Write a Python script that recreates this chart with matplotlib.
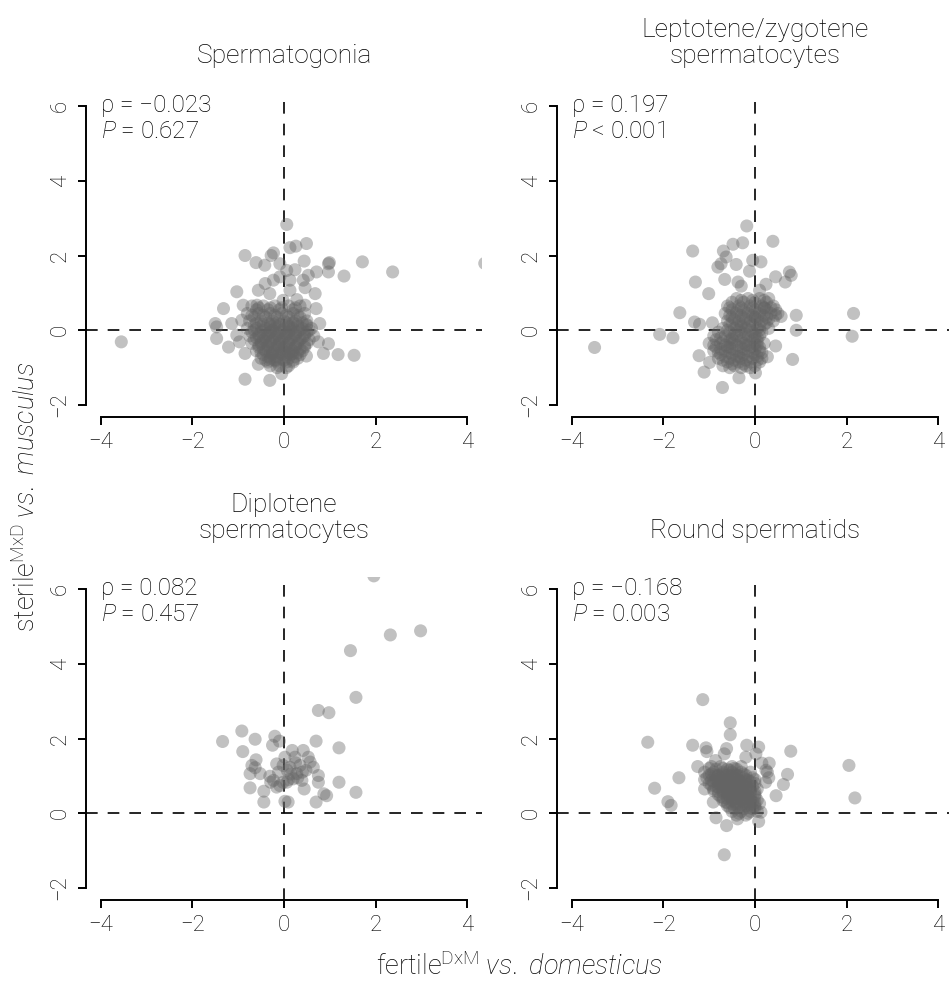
import matplotlib
matplotlib.use("Agg")
import matplotlib.pyplot as plt

plt.rcParams['font.family'] = ['Roboto', 'DejaVu Sans']
plt.rcParams['font.weight'] = 'light'
plt.rcParams['mathtext.fontset'] = 'custom'
plt.rcParams['mathtext.rm'] = 'Roboto:light'
plt.rcParams['mathtext.it'] = 'Roboto:italic:light'

# panel titles and stats
titles = ["Spermatogonia", "Leptotene/zygotene\nspermatocytes",
          "Diplotene\nspermatocytes", "Round spermatids"]
rho_labels = ["ρ = −0.023", "ρ = 0.197", "ρ = 0.082", "ρ = −0.168"]
p_labels = ["$P$ = 0.627", "$P$ < 0.001", "$P$ = 0.457", "$P$ = 0.003"]

# spermatogonia
sg_x = [0.06, -0.85, -0.61, -0.28, -0.23, 0.13, 0.26, 0.49, -0.42, -0.09, 0.44, 0.99,
        1.71, 2.37, 1.31, 0.97, 0.71, 0.53, 0.24, 0.06, -0.09, -0.23, -0.41, 0.13,
        0.42, 0.46, 0.13, -0.56, -1.03, -0.31, 0.68, 0.28, -0.02, -1.32, -0.89, 0.46,
        0.70, -0.59, -1.50, -1.47, -1.14, -0.92, 0.78, 0.49, -1.47, -1.21, -1.03, -0.97,
        -0.85, -0.56, -0.31, -0.05, 0.20, 0.49, 0.86, 0.97, 0.75, 1.18, 1.53, -0.85,
        -0.31, -3.55, 4.38, 0.97,
        -0.7, -0.45, -0.2, 0.1, 0.35,
        -0.8, -0.55, -0.3, -0.05, 0.2, 0.45,
        -0.75, -0.5, -0.25, 0.0, 0.25, 0.5,
        -0.8, -0.6, -0.4, -0.2, 0.0, 0.2, 0.4, 0.6,
        -0.75, -0.55, -0.35, -0.15, 0.05, 0.25, 0.45, 0.65,
        -0.7, -0.5, -0.3, -0.1, 0.1, 0.3, 0.5,
        -0.6, -0.4, -0.2, 0.0, 0.2, 0.4,
        -0.5, -0.3, -0.1, 0.1, 0.3,
        -0.3, -0.1, 0.1,
        -0.3, -0.1, 0.1, -0.2, -0.4, 0.0, -0.25, 0.15, -0.15, 0.05,
        -0.6, -0.35, -0.1, 0.2,
        -0.65, -0.4, -0.15, 0.1, 0.35,
        -0.65, -0.45, -0.3, -0.1, 0.1, 0.3, 0.5,
        -0.7, -0.5, -0.3, -0.1, 0.1, 0.3, 0.5,
        -0.65, -0.45, -0.25, -0.05, 0.15, 0.35, 0.55,
        -0.55, -0.35, -0.15, 0.05, 0.25, 0.45,
        -0.45, -0.25, -0.05, 0.15, 0.35,
        -0.35, -0.15, 0.05, 0.2,
        -0.55, -0.3, -0.05, 0.25,
        -0.7, -0.45, -0.2, 0.05, 0.3,
        -0.6, -0.35, -0.15, 0.05, 0.2, 0.4,
        -0.65, -0.45, -0.25, -0.05, 0.15, 0.35, 0.55,
        -0.6, -0.4, -0.2, 0.0, 0.2, 0.4,
        -0.55, -0.35, -0.15, 0.05, 0.25, 0.45,
        -0.5, -0.3, -0.1, 0.1, 0.3,
        -0.4, -0.2, 0.0, 0.2,
        -0.15, 0.05,
        -0.5, -0.3, -0.1, 0.1, 0.3,
        -0.55, -0.35, -0.15, 0.05, 0.25, 0.45,
        -0.5, -0.3, -0.1, 0.1, 0.3,
        -0.45, -0.25, -0.05, 0.15, 0.35,
        -0.35, -0.15, 0.05, 0.25]
sg_y = [2.83, 2.00, 1.81, 2.00, 2.07, 2.21, 2.25, 2.32, 1.74, 1.78, 1.85, 1.81,
        1.83, 1.56, 1.45, 1.56, 1.56, 1.47, 1.62, 1.60, 1.43, 1.34, 1.25, 1.34,
        1.34, 1.14, 1.07, 1.07, 1.03, 0.98, 0.98, 0.82, 0.80, 0.58, 0.67, 0.67,
        0.58, 0.67, 0.18, 0.09, 0.18, 0.27, 0.18, 0.13, -0.22, -0.45, -0.13, -0.31,
        -0.62, -0.91, -0.80, -1.16, -0.62, -0.69, -0.62, -0.36, -0.31, -0.65, -0.67, -1.31,
        -1.34, -0.31, 1.79, 1.78,
        0.65, 0.65, 0.65, 0.65, 0.65,
        0.45, 0.45, 0.45, 0.45, 0.45, 0.45,
        0.25, 0.25, 0.25, 0.25, 0.25, 0.25,
        0.05, 0.05, 0.05, 0.05, 0.05, 0.05, 0.05, 0.05,
        -0.15, -0.15, -0.15, -0.15, -0.15, -0.15, -0.15, -0.15,
        -0.35, -0.35, -0.35, -0.35, -0.35, -0.35, -0.35,
        -0.55, -0.55, -0.55, -0.55, -0.55, -0.55,
        -0.75, -0.75, -0.75, -0.75, -0.75,
        -0.95, -0.95, -0.95,
        -0.05, -0.25, -0.1, 0.15, -0.3, -0.45, -0.6, 0.1, -0.8, -0.65,
        0.55, 0.55, 0.55, 0.55,
        0.35, 0.35, 0.35, 0.35, 0.35,
        0.15, 0.15, 0.15, 0.15, 0.15, 0.15, 0.15,
        -0.05, -0.05, -0.05, -0.05, -0.05, -0.05, -0.05,
        -0.25, -0.25, -0.25, -0.25, -0.25, -0.25, -0.25,
        -0.45, -0.45, -0.45, -0.45, -0.45, -0.45,
        -0.65, -0.65, -0.65, -0.65, -0.65,
        -0.85, -0.85, -0.85, -0.85,
        0.6, 0.6, 0.6, 0.6,
        0.4, 0.4, 0.4, 0.4, 0.4,
        0.2, 0.2, 0.2, 0.2, 0.2, 0.2,
        0.0, 0.0, 0.0, 0.0, 0.0, 0.0, 0.0,
        -0.2, -0.2, -0.2, -0.2, -0.2, -0.2,
        -0.4, -0.4, -0.4, -0.4, -0.4, -0.4,
        -0.6, -0.6, -0.6, -0.6, -0.6,
        -0.8, -0.8, -0.8, -0.8,
        -1.0, -1.0,
        0.1, 0.1, 0.1, 0.1, 0.1,
        -0.1, -0.1, -0.1, -0.1, -0.1, -0.1,
        -0.3, -0.3, -0.3, -0.3, -0.3,
        -0.5, -0.5, -0.5, -0.5, -0.5,
        -0.7, -0.7, -0.7, -0.7]

# leptotene/zygotene
lz_x = [-0.18, 0.39, -0.27, -0.48, -1.36, -0.69, -0.63, -0.81, -0.74, -0.41, -0.05, 0.13,
        -0.12, 0.75, 0.79, 0.66, 0.45, -1.30, -0.66, -0.37, -0.30, 0.24, -1.01, 0.10,
        -1.64, -1.32, -1.21, -0.93, -2.08, -1.79, 0.90, 0.90, 0.82, 2.15, 2.12, -3.50,
        -1.22, -1.11, -0.71, -0.35, 0.01, -0.99, 0.45, 0.57, 0.27,
        -0.4, -0.15, 0.1, 0.3,
        -0.6, -0.35, -0.1, 0.15, 0.4,
        -0.65, -0.4, -0.15, 0.1, 0.35, 0.5,
        -0.6, -0.35, -0.1, 0.15, 0.4,
        -0.7, -0.45, -0.2, 0.05, 0.3,
        -0.9, -0.65, -0.4, -0.15, 0.1,
        -1.0, -0.75, -0.5, -0.25, 0.0, 0.2,
        -0.9, -0.65, -0.4, -0.15, 0.1,
        -0.8, -0.55, -0.3, -0.05, 0.15,
        -0.7, -0.45, -0.2, 0.0,
        -0.3, 0.0, -0.2, -0.5, -0.35, 0.05, -0.6, 0.2,
        -0.5, -0.25, 0.0, 0.25,
        -0.5, -0.25, 0.0, 0.25, 0.45,
        -0.5, -0.25, 0.0, 0.25,
        -0.55, -0.3, -0.05, 0.2,
        -0.8, -0.55, -0.3, -0.05, 0.15,
        -0.85, -0.55, -0.3, -0.05,
        -0.85, -0.55, -0.3, -0.05, 0.1,
        -0.75, -0.5, -0.25, 0.0,
        -0.6, -0.35, -0.1, 0.1,
        -0.3, -0.05, 0.2,
        -0.55, -0.3, -0.05, 0.2, 0.35,
        -0.55, -0.3, -0.05, 0.2, 0.45,
        -0.5, -0.25, 0.0, 0.25,
        -0.6, -0.35, -0.1, 0.1,
        -0.75, -0.5, -0.25, 0.0,
        -0.9, -0.65, -0.4, -0.15, 0.05,
        -0.8, -0.55, -0.3, -0.05, 0.15,
        -0.7, -0.45, -0.2, 0.05,
        -0.55, -0.3, -0.1,
        -0.4, -0.15, 0.1,
        -0.45, -0.2, 0.05, 0.3,
        -0.4, -0.15, 0.1,
        -0.45, -0.2, 0.0,
        -0.7, -0.45, -0.2, 0.05,
        -0.75, -0.5, -0.25, 0.0,
        -0.65, -0.4, -0.15, 0.05,
        -0.5, -0.25]
lz_y = [2.79, 2.38, 2.34, 2.30, 2.12, 2.12, 1.96, 1.69, 1.78, 1.76, 1.87, 1.83,
        1.58, 1.56, 1.47, 1.29, 1.43, 1.29, 1.36, 1.29, 1.18, 1.23, 0.98, 1.07,
        0.47, 0.22, 0.16, 0.20, -0.11, -0.20, 0.40, 0.00, -0.78, 0.45, -0.16, -0.46,
        -0.68, -1.12, -1.53, -1.27, -1.14, -0.86, -0.42, 0.37, -0.71,
        0.85, 0.85, 0.85, 0.85,
        0.65, 0.65, 0.65, 0.65, 0.65,
        0.45, 0.45, 0.45, 0.45, 0.45, 0.45,
        0.25, 0.25, 0.25, 0.25, 0.25,
        0.05, 0.05, 0.05, 0.05, 0.05,
        -0.15, -0.15, -0.15, -0.15, -0.15,
        -0.35, -0.35, -0.35, -0.35, -0.35, -0.35,
        -0.55, -0.55, -0.55, -0.55, -0.55,
        -0.75, -0.75, -0.75, -0.75, -0.75,
        -0.95, -0.95, -0.95, -0.95,
        0.1, 0.35, -0.4, -0.25, -0.7, -0.2, -0.45, 0.6,
        0.75, 0.75, 0.75, 0.75,
        0.55, 0.55, 0.55, 0.55, 0.55,
        0.35, 0.35, 0.35, 0.35,
        0.15, 0.15, 0.15, 0.15,
        -0.05, -0.05, -0.05, -0.05, -0.05,
        -0.25, -0.25, -0.25, -0.25,
        -0.45, -0.45, -0.45, -0.45, -0.45,
        -0.65, -0.65, -0.65, -0.65,
        -0.85, -0.85, -0.85, -0.85,
        0.8, 0.8, 0.8,
        0.6, 0.6, 0.6, 0.6, 0.6,
        0.4, 0.4, 0.4, 0.4, 0.4,
        0.2, 0.2, 0.2, 0.2,
        0.0, 0.0, 0.0, 0.0,
        -0.2, -0.2, -0.2, -0.2,
        -0.4, -0.4, -0.4, -0.4, -0.4,
        -0.6, -0.6, -0.6, -0.6, -0.6,
        -0.8, -0.8, -0.8, -0.8,
        -1.0, -1.0, -1.0,
        0.5, 0.5, 0.5,
        0.3, 0.3, 0.3, 0.3,
        0.1, 0.1, 0.1,
        -0.1, -0.1, -0.1,
        -0.3, -0.3, -0.3, -0.3,
        -0.5, -0.5, -0.5, -0.5,
        -0.7, -0.7, -0.7, -0.7,
        -0.9, -0.9]

# diplotene
dp_x = [1.96, 2.98, 2.32, 1.45, 1.57, 0.75, 0.98, -1.34, -0.92, -0.63, -0.20, -0.10,
        -0.25, 0.70, 1.20, -0.90, -0.61, -0.70, -0.74, -0.63, -0.52, -0.31, -0.29, -0.74,
        -0.44, -0.44, -0.16, -0.02, 0.02, -0.02, 0.07, 0.18, 0.24, 0.42, 0.53, 0.64,
        0.75, 0.75, 0.28, 0.39, 0.44, 0.20, 0.06, 0.13, 0.35, 0.48, 0.57, 1.20,
        1.57, 0.87, 0.93, 0.70, 0.02, 0.09, -0.09, -0.16, -0.12, -0.23,
        0.30, 0.15, 0.40, 0.25, 0.10]
dp_y = [6.35, 4.88, 4.77, 4.35, 3.10, 2.75, 2.69, 1.92, 2.20, 1.98, 2.06, 1.93,
        1.82, 1.93, 1.75, 1.65, 1.43, 1.28, 1.06, 1.22, 1.06, 0.99, 0.83, 0.68,
        0.59, 0.30, 0.70, 0.83, 1.50, 1.28, 1.15, 1.68, 1.50, 1.68, 1.50, 1.23,
        1.01, 0.83, 1.06, 0.88, 0.65, 0.92, 0.83, 1.23, 1.28, 1.15, 1.37, 0.83,
        0.56, 0.52, 0.47, 0.30, 0.32, 0.30, 0.74, 1.32, 1.10, 0.88,
        0.95, 1.05, 1.10, 1.35, 0.90]

# round spermatids
rs_x = [-1.14, -0.54, -0.54, -2.34, -1.36, -1.07, -1.05, -0.62, -0.67, -0.18, 0.08, 0.02,
        0.78, -0.20, -1.25, -0.86, 0.15, 0.31, 0.27, 0.30, 0.71, 0.62, 0.46, -1.66,
        -2.19, -1.90, -1.83, -1.10, -0.91, -0.85, -0.62, -0.38, 0.08, 0.13, -0.67, 2.05,
        2.18, 0.24, 0.23, 0.10,
        -0.95, -0.75, -0.5, -0.3,
        -1.1, -0.9, -0.7, -0.5, -0.3, -0.1,
        -1.05, -0.85, -0.65, -0.45, -0.25, -0.05,
        -1.0, -0.8, -0.6, -0.4, -0.2, 0.0,
        -0.9, -0.7, -0.5, -0.3, -0.1, 0.05,
        -0.8, -0.6, -0.4, -0.2, 0.0,
        -0.7, -0.5, -0.3, -0.1, 0.05,
        -0.6, -0.4, -0.2, 0.0,
        -0.5, -0.3, -0.1, 0.05,
        -0.4, -0.2,
        -0.6, -0.4, -0.8, -0.3, -0.55, -0.15, -0.7, -0.45,
        -0.85, -0.6, -0.4,
        -1.0, -0.8, -0.6, -0.4, -0.2,
        -0.95, -0.75, -0.55, -0.35, -0.15,
        -0.85, -0.65, -0.45, -0.25, -0.05,
        -0.8, -0.6, -0.4, -0.2, 0.0,
        -0.7, -0.5, -0.3, -0.1,
        -0.6, -0.4, -0.2, 0.0,
        -0.45, -0.25, -0.05,
        -1.0, -0.7, -0.45,
        -0.95, -0.7, -0.45, -0.25,
        -1.1, -0.85, -0.6, -0.4, -0.2, 0.0,
        -0.95, -0.75, -0.55, -0.35, -0.15,
        -0.9, -0.7, -0.5, -0.3, -0.1,
        -0.75, -0.55, -0.35, -0.15, 0.0,
        -0.65, -0.45, -0.25, -0.05,
        -0.55, -0.35, -0.15, 0.0,
        -0.35, -0.15,
        -0.85, -0.65, -0.5, -0.35,
        -0.9, -0.7, -0.5, -0.3, -0.1,
        -0.8, -0.6, -0.4, -0.2,
        -0.7, -0.5, -0.3, -0.1,
        -0.6, -0.4, -0.2,
        -0.5, -0.3, -0.1]
rs_y = [3.04, 2.42, 2.10, 1.90, 1.82, 1.75, 1.65, 1.73, 1.59, 1.82, 1.77, 1.59,
        1.66, 1.50, 1.25, 1.41, 1.34, 1.34, 1.10, 0.95, 1.04, 0.77, 0.47, 0.95,
        0.67, 0.31, 0.21, 0.65, 0.30, -0.12, -0.33, -0.15, -0.22, 0.03, -1.11, 1.28,
        0.41, 1.15, 0.83, 0.26,
        1.25, 1.25, 1.25, 1.25,
        1.1, 1.1, 1.1, 1.1, 1.1, 1.1,
        0.95, 0.95, 0.95, 0.95, 0.95, 0.95,
        0.8, 0.8, 0.8, 0.8, 0.8, 0.8,
        0.65, 0.65, 0.65, 0.65, 0.65, 0.65,
        0.5, 0.5, 0.5, 0.5, 0.5,
        0.35, 0.35, 0.35, 0.35, 0.35,
        0.2, 0.2, 0.2, 0.2,
        0.05, 0.05, 0.05, 0.05,
        -0.05, -0.05,
        0.9, 0.7, 1.0, 0.55, 1.15, 0.3, 0.75, 0.45,
        1.18, 1.18, 1.18,
        1.02, 1.02, 1.02, 1.02, 1.02,
        0.88, 0.88, 0.88, 0.88, 0.88,
        0.72, 0.72, 0.72, 0.72, 0.72,
        0.58, 0.58, 0.58, 0.58, 0.58,
        0.42, 0.42, 0.42, 0.42,
        0.28, 0.28, 0.28, 0.28,
        0.12, 0.12, 0.12,
        1.2, 1.2, 1.2,
        1.05, 1.05, 1.05, 1.05,
        0.9, 0.9, 0.9, 0.9, 0.9, 0.9,
        0.75, 0.75, 0.75, 0.75, 0.75,
        0.6, 0.6, 0.6, 0.6, 0.6,
        0.45, 0.45, 0.45, 0.45, 0.45,
        0.3, 0.3, 0.3, 0.3,
        0.15, 0.15, 0.15, 0.15,
        0.0, 0.0,
        1.0, 1.0, 1.0, 1.0,
        0.85, 0.85, 0.85, 0.85, 0.85,
        0.7, 0.7, 0.7, 0.7,
        0.55, 0.55, 0.55, 0.55,
        0.4, 0.4, 0.4,
        0.25, 0.25, 0.25]

panels = [(sg_x, sg_y), (lz_x, lz_y), (dp_x, dp_y), (rs_x, rs_y)]

fig = plt.figure(figsize=(9.49, 9.82), dpi=100)
W, H = 949, 982
lefts = [86, 557, 86, 557]
tops = [94, 94, 577, 577]
title_bottoms = [68, 68, 543, 543]
aw, ah = 396, 323

for i, (xs, ys) in enumerate(panels):
    ax = fig.add_axes([lefts[i] / W, 1 - (tops[i] + ah) / H, aw / W, ah / H])
    ax.set_xlim(-4.32, 4.32)
    ax.set_ylim(-2.32, 6.32)
    ax.axhline(0, color='black', lw=1.2, linestyle=(0, (7, 6)), zorder=1)
    ax.axvline(0, color='black', lw=1.2, linestyle=(0, (7, 6)), zorder=1)
    ax.scatter(xs, ys, s=88, color='#646464', alpha=0.40, edgecolors='none', zorder=2)

    for side in ['top', 'right']:
        ax.spines[side].set_visible(False)
    ax.spines['bottom'].set_bounds(-4, 4)
    ax.spines['left'].set_bounds(-2, 6)
    for side in ['bottom', 'left']:
        ax.spines[side].set_linewidth(1.4)
    ax.set_xticks([-4, -2, 0, 2, 4])
    ax.set_yticks([-2, 0, 2, 4, 6])
    ax.tick_params(direction='out', length=6, width=1.4, labelsize=16, pad=5,
                   colors='black')
    for lab in ax.get_yticklabels():
        lab.set_rotation(90)
        lab.set_va('center')

    ax.text(-4.0, 6.02, rho_labels[i], fontsize=17.5, va='center', ha='left', color='black')
    ax.text(-4.0, 5.32, p_labels[i], fontsize=17.5, va='center', ha='left', color='black')

    fig.text((lefts[i] + aw / 2) / W, 1 - title_bottoms[i] / H, titles[i],
             fontsize=19, ha='center', va='bottom', linespacing=1.1)

fig.text(27 / W, 1 - 497 / H, r'sterile$^{\mathrm{MxD}}$ $\mathit{vs.}$ $\mathit{musculus}$',
         rotation=90, fontsize=19.5, ha='center', va='center')
fig.text(520 / W, 1 - 967 / H, r'fertile$^{\mathrm{DxM}}$ $\mathit{vs.}$ $\mathit{domesticus}$',
         fontsize=19.5, ha='center', va='center')

fig.savefig('out.png', dpi=100)
